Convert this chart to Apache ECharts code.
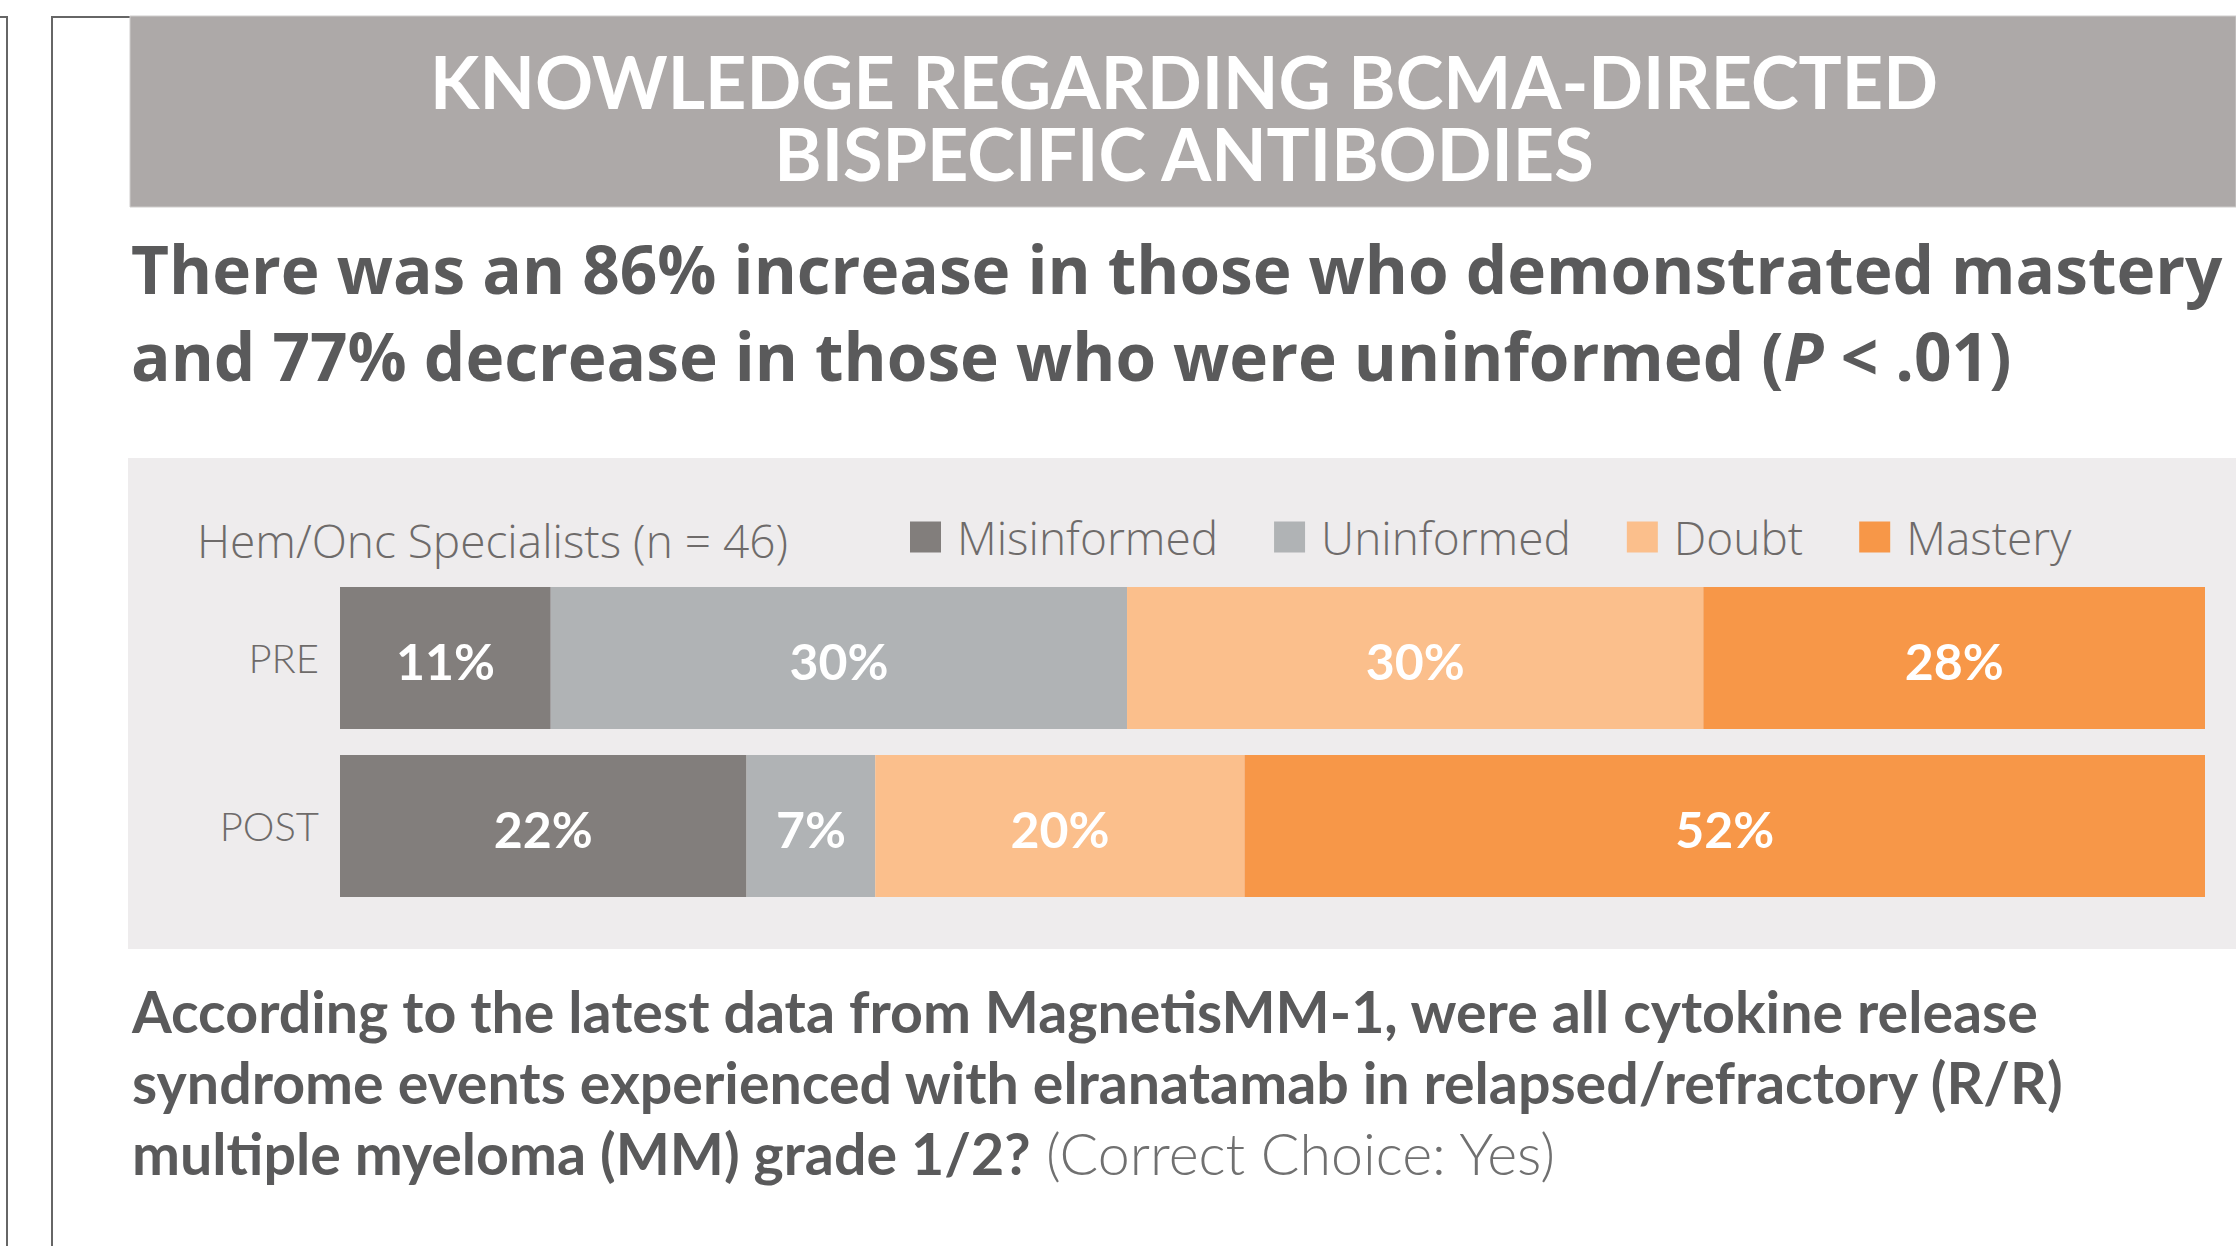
<!DOCTYPE html>
<html>
<head>
<meta charset="utf-8">
<script src="https://cdn.jsdelivr.net/npm/echarts@6/dist/echarts.min.js"></script>
<style>
html,body{margin:0;padding:0;background:#fff;}
#chart{width:2236px;height:1246px;}
</style>
</head>
<body>
<div id="chart"></div>
<script>
// ---- data ----
const categories = ['PRE', 'POST'];
const seriesNames = ['Misinformed', 'Uninformed', 'Doubt', 'Mastery'];
const misinformed = [11.3, 21.8];
const uninformed = [30.9, 6.9];
const doubt = [30.9, 19.8];
const mastery = [26.9, 51.5];
const misinformedLabels = ['11%', '22%'];
const uninformedLabels = ['30%', '7%'];
const doubtLabels = ['30%', '20%'];
const masteryLabels = ['28%', '52%'];
const titleLines = ['KNOWLEDGE REGARDING BCMA-DIRECTED', 'BISPECIFIC ANTIBODIES'];
const subtitleLine1 = 'There was an 86% increase in those who demonstrated mastery';
const subtitleLine2a = 'and 77% decrease in those who were uninformed (';
const subtitleLine2b = 'P';
const subtitleLine2c = ' < .01)';
const groupLabel = 'Hem/Onc Specialists (n = 46)';
const questionLines = [
  'According to the latest data from MagnetisMM-1, were all cytokine release',
  'syndrome events experienced with elranatamab in relapsed/refractory (R/R)',
  'multiple myeloma (MM) grade 1/2?'
];
const answerText = ' (Correct Choice: Yes)';

// ---- style ----
const FONT = 'Lato';
const WIDE = 'Open Sans';
const colors = ['#827E7C', '#B0B3B5', '#FBBF8C', '#F79748'];
const values = [misinformed, uninformed, doubt, mastery];
const labels = [misinformedLabels, uninformedLabels, doubtLabels, masteryLabels];
const darkText = '#5A5A5B';
const lightText = '#6E6B6A';

const chart = echarts.init(document.getElementById('chart'), null, {renderer: 'svg'});

const series = seriesNames.map((name, i) => ({
  name: name,
  type: 'bar',
  stack: 'total',
  barWidth: 142,
  data: values[i],
  itemStyle: {color: colors[i]},
  emphasis: {disabled: true},
  label: {
    show: true,
    position: 'inside',
    offset: [0, 3],
    color: '#ffffff',
    fontFamily: FONT,
    fontWeight: 'bold',
    fontSize: 50,
    formatter: p => labels[p.seriesIndex][p.dataIndex]
  }
}));

const graphic = [
  {type: 'polyline', z: 0, shape: {points: [[0, 17], [7, 17], [7, 1246]]}, style: {stroke: '#666', lineWidth: 2, fill: null}},
  {type: 'polyline', z: 0, shape: {points: [[130, 17], [52, 17], [52, 1246]]}, style: {stroke: '#666', lineWidth: 2, fill: null}},
  {type: 'rect', z: 0, shape: {x: 130, y: 16, width: 2106, height: 191}, style: {fill: '#ADA9A8', stroke: '#cfcdcc', lineWidth: 1}},
  {type: 'rect', z: 0, shape: {x: 128, y: 458, width: 2108, height: 491}, style: {fill: '#EEECED'}},
  {type: 'text', z: 5, x: 1184, y: 81, style: {text: titleLines[0], fill: '#fff', font: 'bold 72px ' + FONT, lineHeight: 72, textAlign: 'center', textVerticalAlign: 'middle'}},
  {type: 'text', z: 5, x: 1184, y: 153, style: {text: titleLines[1], fill: '#fff', font: 'bold 72px ' + FONT, lineHeight: 72, textAlign: 'center', textVerticalAlign: 'middle'}},
  {type: 'text', z: 5, x: 131, y: 268, style: {text: subtitleLine1, fill: darkText, font: 'bold 65.7px "' + WIDE + '"', textAlign: 'left', textVerticalAlign: 'middle'}},
  {type: 'text', z: 5, x: 131, y: 355, style: {
    text: '{b|' + subtitleLine2a + '}{i|' + subtitleLine2b + '}{b|' + subtitleLine2c + '}',
    textAlign: 'left', textVerticalAlign: 'middle',
    rich: {
      b: {fill: darkText, fontFamily: WIDE, fontWeight: 'bold', fontSize: 65.7},
      i: {fill: darkText, fontFamily: WIDE, fontWeight: 'bold', fontStyle: 'italic', fontSize: 65.7}
    }
  }},
  {type: 'text', z: 5, x: 197, y: 540, style: {text: groupLabel, fill: lightText, font: '300 46px "' + WIDE + '"', textAlign: 'left', textVerticalAlign: 'middle'}},
  {type: 'text', z: 5, x: 132, y: 1010, style: {text: questionLines[0], fill: darkText, font: 'bold 57.3px ' + FONT, textAlign: 'left', textVerticalAlign: 'middle'}},
  {type: 'text', z: 5, x: 132, y: 1081, style: {text: questionLines[1], fill: darkText, font: 'bold 57.3px ' + FONT, textAlign: 'left', textVerticalAlign: 'middle'}},
  {type: 'text', z: 5, x: 132, y: 1152, style: {
    text: '{b|' + questionLines[2] + '}{l|' + answerText + '}',
    textAlign: 'left', textVerticalAlign: 'middle',
    rich: {
      b: {fill: darkText, fontFamily: FONT, fontWeight: 'bold', fontSize: 57.3},
      l: {fill: '#707070', fontFamily: FONT, fontWeight: 300, fontSize: 57.3}
    }
  }}
];

chart.setOption({
  animation: false,
  backgroundColor: '#ffffff',
  legend: {
    left: 910,
    top: 514,
    padding: 0,
    itemWidth: 31,
    itemHeight: 31,
    itemGap: 56,
    icon: 'rect',
    selectedMode: false,
    data: seriesNames,
    textStyle: {color: lightText, fontFamily: WIDE, fontWeight: 300, fontSize: 46, padding: [0, 0, 0, 11]}
  },
  grid: {left: 340, right: 31, top: 574, height: 336, containLabel: false},
  xAxis: {type: 'value', min: 0, max: 100, show: false},
  yAxis: {
    type: 'category',
    data: categories,
    inverse: true,
    axisLine: {show: false},
    axisTick: {show: false},
    splitLine: {show: false},
    axisLabel: {color: lightText, fontFamily: FONT, fontWeight: 300, fontSize: 40, margin: 21, padding: [6, 0, 0, 0]}
  },
  graphic: graphic,
  series: series
});
</script>
</body>
</html>
